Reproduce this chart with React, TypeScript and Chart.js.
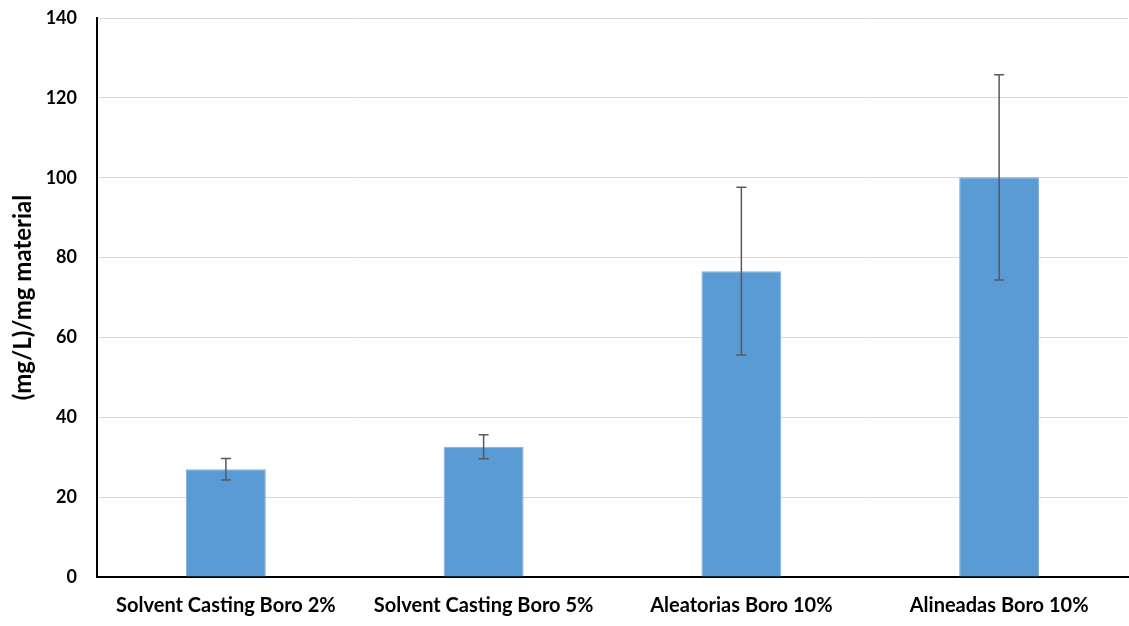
import React, { useEffect, useRef } from "react";
import { Chart, registerables } from "chart.js";

Chart.register(...registerables);

const categories = [
  "Solvent Casting Boro 2%",
  "Solvent Casting Boro 5%",
  "Aleatorias Boro 10%",
  "Alineadas Boro 10%",
];
const values = [27.0, 32.6, 76.6, 100.1];
const errors = [2.7, 3.0, 21.0, 25.7];
const yTicks = [0, 20, 40, 60, 80, 100, 120, 140];

const errorBarPlugin = {
  id: "errorBars",
  afterDatasetsDraw(chart: any) {
    const ctx = chart.ctx;
    const meta = chart.getDatasetMeta(0);
    const y = chart.scales.y;
    ctx.save();
    ctx.strokeStyle = "#595959";
    ctx.lineWidth = 1.5;
    meta.data.forEach((bar: any, i: number) => {
      const x = bar.x;
      const yTop = y.getPixelForValue(values[i] + errors[i]);
      const yBot = y.getPixelForValue(values[i] - errors[i]);
      ctx.beginPath();
      ctx.moveTo(x, yTop);
      ctx.lineTo(x, yBot);
      ctx.moveTo(x - 5, yTop);
      ctx.lineTo(x + 5, yTop);
      ctx.moveTo(x - 5, yBot);
      ctx.lineTo(x + 5, yBot);
      ctx.stroke();
    });
    ctx.restore();
  },
};

export default function App() {
  const ref = useRef<HTMLCanvasElement>(null);
  useEffect(() => {
    document.body.style.margin = "0";
    const chart = new Chart(ref.current!, {
      type: "bar",
      data: {
        labels: categories,
        datasets: [
          {
            data: values,
            backgroundColor: "#5B9BD5",
            borderColor: "#7EB0E0",
            borderWidth: 1,
            barPercentage: 0.62,
            categoryPercentage: 0.5,
          },
        ],
      },
      options: {
        animation: false,
        responsive: false,
        maintainAspectRatio: false,
        layout: { padding: { top: 18, right: 1, left: 0, bottom: 0 } },
        plugins: { legend: { display: false }, tooltip: { enabled: false } },
        scales: {
          x: {
            grid: { display: false, drawTicks: false },
            border: { color: "#000", width: 2 },
            ticks: {
              color: "#000",
              padding: 17,
              font: { family: "Lato", weight: "bold", size: 20 },
              maxRotation: 0,
            },
            afterFit(scale: any) {
              scale.height = 49;
            },
          },
          y: {
            min: 0,
            max: 140,
            afterBuildTicks(scale: any) {
              scale.ticks = yTicks.map((v) => ({ value: v }));
            },
            grid: {
              color: "#d9d9d9",
              lineWidth: 1,
              drawTicks: true,
              tickLength: 20,
              tickColor: "rgba(0,0,0,0)",
            },
            border: { color: "#000", width: 2 },
            ticks: {
              color: "#000",
              padding: 0,
              font: { family: "Lato", weight: "bold", size: 18 },
            },
            title: {
              display: true,
              text: "(mg/L)/mg material",
              color: "#000",
              font: { family: "Lato", weight: "bold", size: 24 },
              padding: { top: 9, bottom: 0 },
            },
            afterFit(scale: any) {
              scale.width = 97;
            },
          },
        },
      },
      plugins: [errorBarPlugin],
    });
    return () => chart.destroy();
  }, []);
  return (
    <div style={{ position: "absolute", left: 0, top: 0, width: 1129, height: 626 }}>
      <canvas ref={ref} width={1129} height={626} style={{ width: 1129, height: 626 }} />
    </div>
  );
}
